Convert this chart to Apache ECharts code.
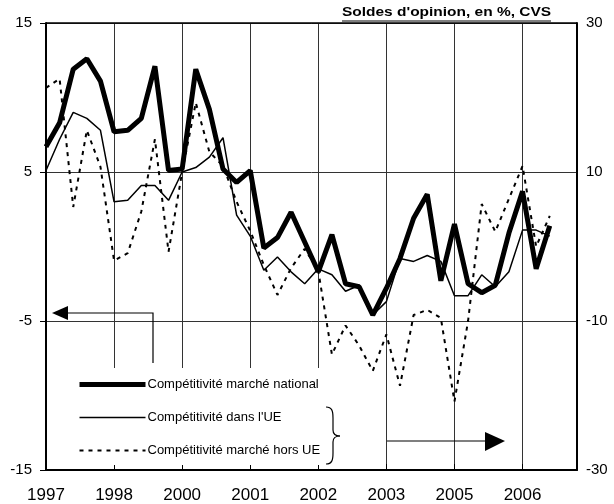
<!DOCTYPE html>
<html>
<head>
<meta charset="utf-8">
<script src="https://cdn.jsdelivr.net/npm/echarts@6/dist/echarts.min.js"></script>
<style>
  html, body { margin: 0; padding: 0; background: #fff; }
  #chart { width: 614px; height: 504px; }
</style>
</head>
<body>
<div id="chart"></div>
<script>
// one label every 5 points
const categories = [
  '1997', '', '', '', '', '1998', '', '', '', '',
  '2000', '', '', '', '', '2001', '', '', '', '',
  '2002', '', '', '', '', '2003', '', '', '', '',
  '2005', '', '', '', '', '2006', '', '', '', ''
]

// left axis
const nationalData = [
  6.7, 8.3, 11.9, 12.6, 11.1, 7.7, 7.8, 8.6, 12.1, 5.1,
  5.2, 11.9, 9.2, 5.2, 4.3, 5.1, -0.1, 0.6, 2.3, 0.3,
  -1.7, 0.8, -2.5, -2.7, -4.6, -2.8, -0.8, 1.9, 3.5, -2.3,
  1.5, -2.5, -3.1, -2.6, 0.9, 3.7, -1.5, 1.4
]
const ueData = [
  5.1, 7.2, 9.0, 8.6, 7.8, 3.0, 3.1, 4.1, 4.1, 3.1,
  5.0, 5.3, 6.0, 7.3, 2.1, 0.7, -1.6, -0.7, -1.7, -2.5,
  -1.5, -1.9, -3.0, -2.6, -4.6, -3.7, -0.8, -1.0, -0.6, -1.0,
  -3.3, -3.3, -1.9, -2.7, -1.7, 1.1, 1.1, 0.7
]
// right axis
const horsUeData = [
  21.3, 22.5, 5.3, 15.6, 10.7, -1.9, -0.9, 4.7, 14.4, -0.7,
  10.0, 19.3, 12.7, 10.8, 6.0, 2.1, -2.5, -6.5, -2.9, -0.3,
  -3.3, -14.5, -10.6, -13.3, -16.7, -11.8, -18.7, -9.2, -8.5, -9.6,
  -20.8, -10.0, 5.7, 2.0, 6.4, 10.8, 0.0, 4.1
]

const leftTicks = [-15, 15, 10]
const rightTicks = [-30, 30, 20]

const chart = echarts.init(document.getElementById('chart'))
const font = 'Arial, "Liberation Sans", sans-serif'

const blackLine = { stroke: '#000', lineWidth: 1.2, fill: null }

chart.setOption({
  animation: false,
  backgroundColor: '#fff',
  textStyle: { fontFamily: font },
  grid: { left: 46, right: 37, top: 23, bottom: 31 },
  legend: {
    orient: 'vertical',
    left: 77,
    top: 378,
    itemWidth: 66,
    itemHeight: 14,
    itemGap: 20,
    padding: 0,
    selectedMode: false,
    itemStyle: { opacity: 0 },
    lineStyle: { width: 'inherit' },
    textStyle: { fontSize: 13, color: '#000', fontFamily: font, padding: [0, 0, 0, -3] },
    data: ['Compétitivité marché national', "Compétitivité dans l'UE", 'Compétitivité marché hors UE']
  },
  xAxis: {
    type: 'category',
    data: categories,
    boundaryGap: false,
    axisLine: { onZero: false, lineStyle: { color: '#000', width: 2 } },
    axisTick: { show: true, inside: true, length: 6, interval: 4, lineStyle: { color: '#000' } },
    axisLabel: { interval: 4, color: '#000', fontSize: 17, margin: 17, fontFamily: font },
    splitLine: { show: true, interval: 4, lineStyle: { color: '#333', width: 1 } }
  },
  yAxis: [{
    type: 'value',
    min: leftTicks[0],
    max: leftTicks[1],
    interval: leftTicks[2],
    axisLine: { show: true, lineStyle: { color: '#000', width: 2 } },
    axisTick: { show: true, length: 6, lineStyle: { color: '#000' } },
    axisLabel: { color: '#000', fontSize: 15, margin: 14, fontFamily: font },
    splitLine: { show: true, lineStyle: { color: '#333', width: 1 } }
  }, {
    type: 'value',
    min: rightTicks[0],
    max: rightTicks[1],
    interval: rightTicks[2],
    position: 'right',
    axisLine: { show: true, lineStyle: { color: '#000', width: 2 } },
    axisTick: { show: false },
    axisLabel: { color: '#000', fontSize: 15, margin: 9, fontFamily: font },
    splitLine: { show: false }
  }],
  graphic: [
    // white box behind the legend, hides the grid lines
    { type: 'rect', z: 1, shape: { x: 47, y: 368, width: 298, height: 97 }, style: { fill: '#fff' } },
    // top border
    { type: 'line', z: 3, shape: { x1: 46, y1: 23, x2: 577, y2: 23 }, style: { stroke: '#000', lineWidth: 1.5 } },
    // title, underlined
    { type: 'text', z: 5, x: 342, y: 6, scaleX: 1.19, style: { text: "Soldes d'opinion, en %, CVS", font: 'bold 13px ' + font, fill: '#000' } },
    { type: 'line', z: 5, shape: { x1: 342, y1: 21, x2: 551, y2: 21 }, style: { stroke: '#000', lineWidth: 1 } },
    // left arrow
    { type: 'polyline', z: 5, shape: { points: [[153, 363], [153, 313], [66, 313]] }, style: blackLine },
    { type: 'polygon', z: 5, shape: { points: [[52, 313], [68, 306], [68, 320]] }, style: { fill: '#000' } },
    // right arrow
    { type: 'line', z: 5, shape: { x1: 387, y1: 441, x2: 487, y2: 441 }, style: blackLine },
    { type: 'polygon', z: 5, shape: { points: [[505, 441], [485, 432], [485, 451]] }, style: { fill: '#000' } },
    // brace
    { type: 'bezierCurve', z: 5, shape: { x1: 326, y1: 407, cpx1: 332, cpy1: 407, cpx2: 333, cpy2: 411, x2: 333, y2: 418 }, style: blackLine },
    { type: 'line', z: 5, shape: { x1: 333, y1: 418, x2: 333, y2: 430 }, style: blackLine },
    { type: 'bezierCurve', z: 5, shape: { x1: 333, y1: 430, cpx1: 333, cpy1: 434, cpx2: 336, cpy2: 436, x2: 340, y2: 436 }, style: blackLine },
    { type: 'bezierCurve', z: 5, shape: { x1: 340, y1: 436, cpx1: 336, cpy1: 436, cpx2: 333, cpy2: 438, x2: 333, y2: 442 }, style: blackLine },
    { type: 'line', z: 5, shape: { x1: 333, y1: 442, x2: 333, y2: 453 }, style: blackLine },
    { type: 'bezierCurve', z: 5, shape: { x1: 333, y1: 453, cpx1: 333, cpy1: 460, cpx2: 332, cpy2: 464, x2: 326, y2: 464 }, style: blackLine }
  ],
  series: [{
    name: 'Compétitivité marché national',
    type: 'line',
    data: nationalData,
    symbol: 'none',
    z: 4,
    lineStyle: { color: '#000', width: 5 },
    itemStyle: { color: '#000' }
  }, {
    name: "Compétitivité dans l'UE",
    type: 'line',
    data: ueData,
    symbol: 'none',
    z: 3,
    lineStyle: { color: '#000', width: 1.5 },
    itemStyle: { color: '#000' }
  }, {
    name: 'Compétitivité marché hors UE',
    type: 'line',
    yAxisIndex: 1,
    data: horsUeData,
    symbol: 'none',
    z: 2,
    lineStyle: { color: '#000', width: 2, type: [4, 5] },
    itemStyle: { color: '#000' }
  }]
})
</script>
</body>
</html>
